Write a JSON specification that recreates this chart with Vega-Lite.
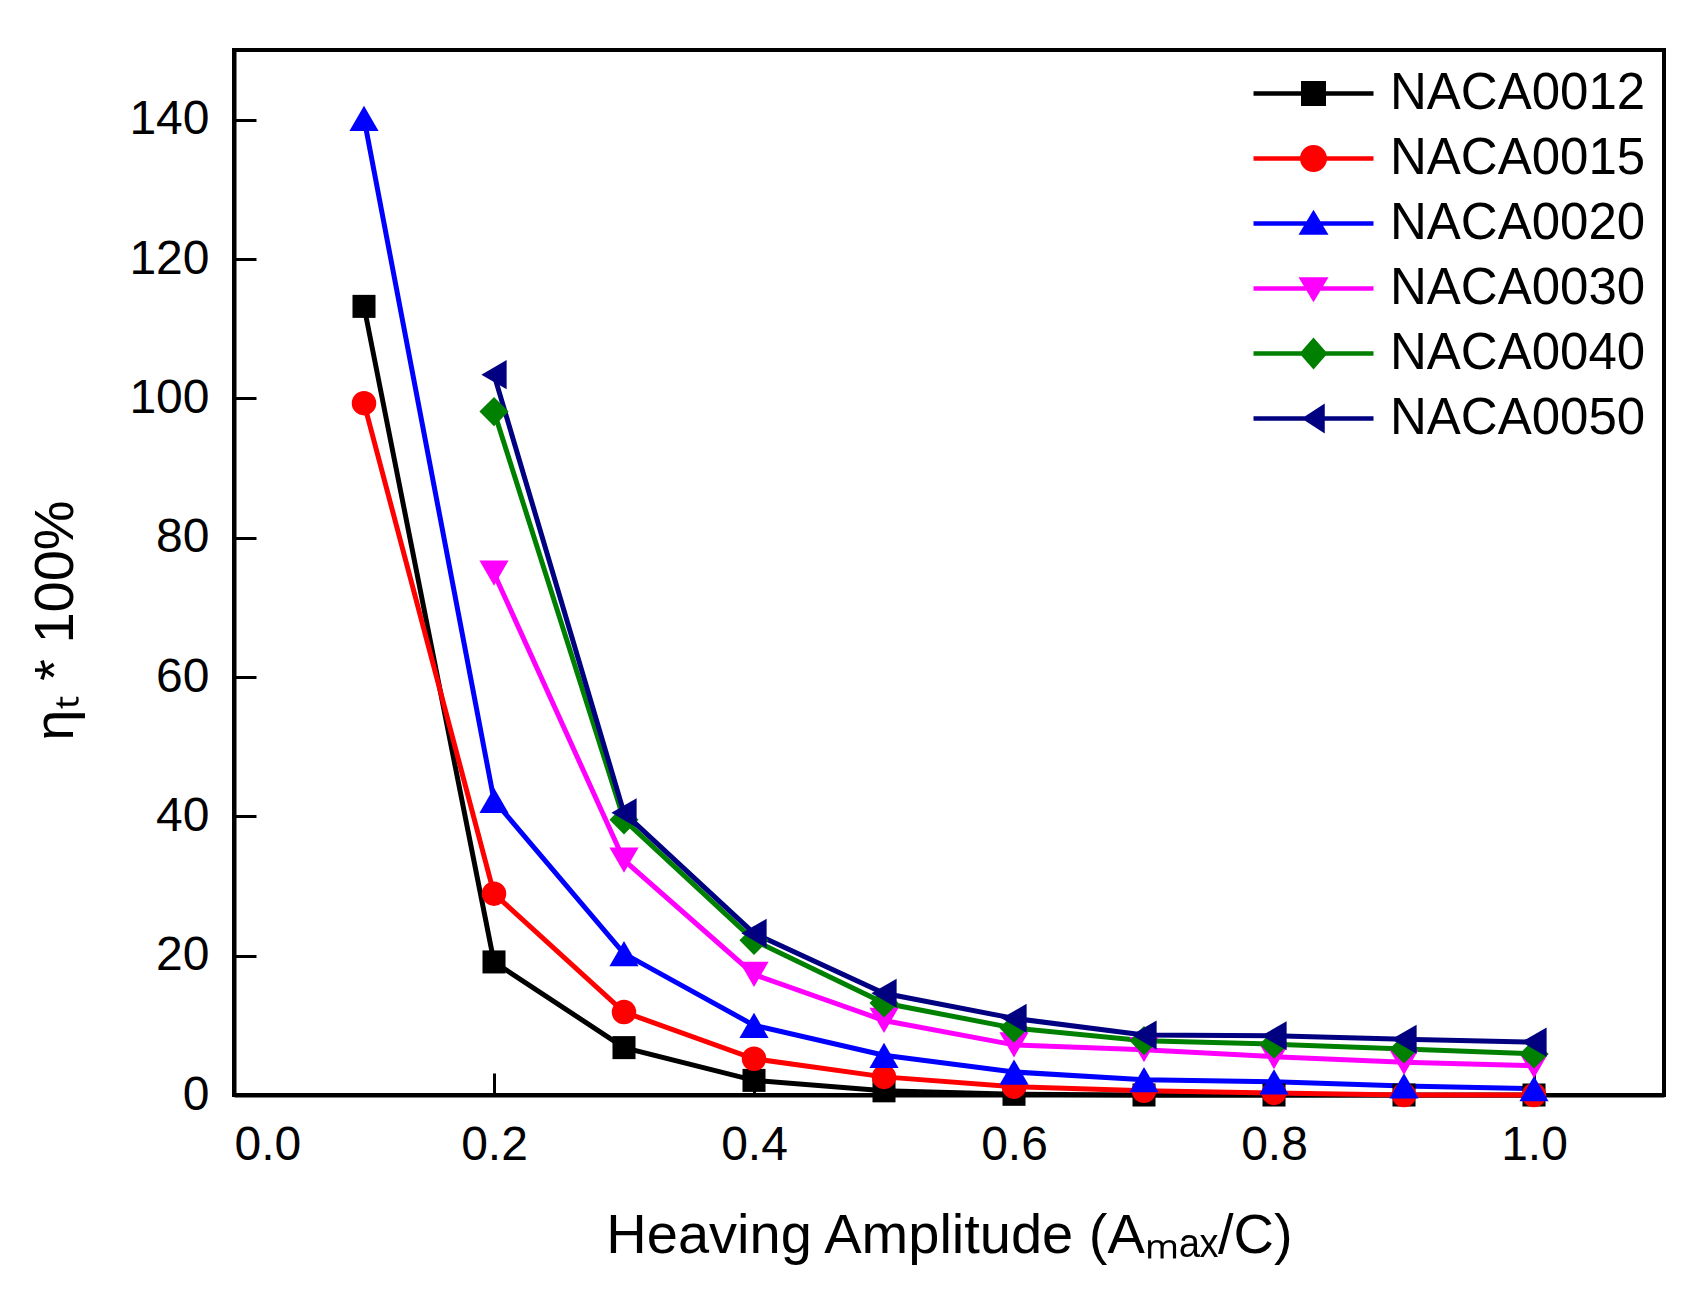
{
  "$schema": "https://vega.github.io/schema/vega-lite/v6.json",
  "width": 1430,
  "height": 1045,
  "autosize": "none",
  "padding": {"left": 234, "top": 50, "right": 30, "bottom": 210},
  "background": "white",
  "config": {
    "font": "Liberation Sans",
    "view": {"stroke": "black", "strokeWidth": 4},
    "legend": {"labelFont": "Liberation Sans", "labelColor": "black"},
    "axis": {
      "grid": false,
      "domainColor": "black",
      "domainWidth": 4,
      "tickColor": "black",
      "tickWidth": 3,
      "tickSize": -22,
      "labelColor": "black",
      "labelFont": "Liberation Sans",
      "labelFontSize": 48,
      "titleFont": "Liberation Sans",
      "titleFontSize": 56,
      "titleFontWeight": "normal",
      "titleColor": "black"
    }
  },
  "data": {
    "values": [
      {"series": "NACA0012", "amp": 0.1, "eta": 113.2},
      {"series": "NACA0012", "amp": 0.2, "eta": 19.1},
      {"series": "NACA0012", "amp": 0.3, "eta": 6.8},
      {"series": "NACA0012", "amp": 0.4, "eta": 2.1},
      {"series": "NACA0012", "amp": 0.5, "eta": 0.6},
      {"series": "NACA0012", "amp": 0.6, "eta": 0.1},
      {"series": "NACA0012", "amp": 0.7, "eta": 0.0},
      {"series": "NACA0012", "amp": 0.8, "eta": 0.0},
      {"series": "NACA0012", "amp": 0.9, "eta": 0.0},
      {"series": "NACA0012", "amp": 1.0, "eta": 0.0},
      {"series": "NACA0015", "amp": 0.1, "eta": 99.3},
      {"series": "NACA0015", "amp": 0.2, "eta": 28.9},
      {"series": "NACA0015", "amp": 0.3, "eta": 11.9},
      {"series": "NACA0015", "amp": 0.4, "eta": 5.2},
      {"series": "NACA0015", "amp": 0.5, "eta": 2.6},
      {"series": "NACA0015", "amp": 0.6, "eta": 1.2},
      {"series": "NACA0015", "amp": 0.7, "eta": 0.6},
      {"series": "NACA0015", "amp": 0.8, "eta": 0.3},
      {"series": "NACA0015", "amp": 0.9, "eta": 0.0},
      {"series": "NACA0015", "amp": 1.0, "eta": 0.0},
      {"series": "NACA0020", "amp": 0.1, "eta": 140.2},
      {"series": "NACA0020", "amp": 0.2, "eta": 42.3},
      {"series": "NACA0020", "amp": 0.3, "eta": 20.3},
      {"series": "NACA0020", "amp": 0.4, "eta": 10.0},
      {"series": "NACA0020", "amp": 0.5, "eta": 5.7},
      {"series": "NACA0020", "amp": 0.6, "eta": 3.3},
      {"series": "NACA0020", "amp": 0.7, "eta": 2.2},
      {"series": "NACA0020", "amp": 0.8, "eta": 1.9},
      {"series": "NACA0020", "amp": 0.9, "eta": 1.3},
      {"series": "NACA0020", "amp": 1.0, "eta": 0.9},
      {"series": "NACA0030", "amp": 0.2, "eta": 74.9},
      {"series": "NACA0030", "amp": 0.3, "eta": 33.7},
      {"series": "NACA0030", "amp": 0.4, "eta": 17.3},
      {"series": "NACA0030", "amp": 0.5, "eta": 10.7},
      {"series": "NACA0030", "amp": 0.6, "eta": 7.2},
      {"series": "NACA0030", "amp": 0.7, "eta": 6.5},
      {"series": "NACA0030", "amp": 0.8, "eta": 5.5},
      {"series": "NACA0030", "amp": 0.9, "eta": 4.7},
      {"series": "NACA0030", "amp": 1.0, "eta": 4.2},
      {"series": "NACA0040", "amp": 0.2, "eta": 98.1},
      {"series": "NACA0040", "amp": 0.3, "eta": 39.5},
      {"series": "NACA0040", "amp": 0.4, "eta": 22.2},
      {"series": "NACA0040", "amp": 0.5, "eta": 13.2},
      {"series": "NACA0040", "amp": 0.6, "eta": 9.6},
      {"series": "NACA0040", "amp": 0.7, "eta": 7.8},
      {"series": "NACA0040", "amp": 0.8, "eta": 7.3},
      {"series": "NACA0040", "amp": 0.9, "eta": 6.6},
      {"series": "NACA0040", "amp": 1.0, "eta": 5.9},
      {"series": "NACA0050", "amp": 0.2, "eta": 103.4},
      {"series": "NACA0050", "amp": 0.3, "eta": 40.5},
      {"series": "NACA0050", "amp": 0.4, "eta": 23.2},
      {"series": "NACA0050", "amp": 0.5, "eta": 14.6},
      {"series": "NACA0050", "amp": 0.6, "eta": 11.0},
      {"series": "NACA0050", "amp": 0.7, "eta": 8.6},
      {"series": "NACA0050", "amp": 0.8, "eta": 8.5},
      {"series": "NACA0050", "amp": 0.9, "eta": 8.0},
      {"series": "NACA0050", "amp": 1.0, "eta": 7.6}
    ]
  },
  "encoding": {
    "x": {
      "field": "amp",
      "type": "quantitative",
      "scale": {"domain": [0, 1.1], "nice": false, "zero": false},
      "axis": {
        "values": [0, 0.2, 0.4, 0.6, 0.8, 1.0],
        "format": ".1f",
        "labelPadding": 48,
        "title": "Heaving Amplitude (Aₘₐₓ/C)",
        "titleBaseline": "alphabetic",
        "titleY": 157
      }
    },
    "y": {
      "field": "eta",
      "type": "quantitative",
      "scale": {"domain": [0, 150], "nice": false},
      "axis": {
        "values": [0, 20, 40, 60, 80, 100, 120, 140],
        "labelPadding": 47,
        "title": "ηₜ * 100%",
        "titleBaseline": "alphabetic",
        "titleAngle": 270,
        "titleAlign": "center",
        "titleX": -162,
        "titleY": 570
      }
    }
  },
  "layer": [
    {
      "mark": {"type": "line", "strokeWidth": 5},
      "encoding": {
        "color": {
          "field": "series",
          "type": "nominal",
          "scale": {"range": ["#000000", "#ff0000", "#0000ff", "#ff00ff", "#008000", "#000080"]},
          "legend": null
        }
      }
    },
    {
      "transform": [{"filter": "datum.series === 'NACA0012'"}],
      "mark": {"type": "point", "shape": "square", "filled": true, "opacity": 1, "size": 530},
      "encoding": {"color": {"field": "series", "type": "nominal", "legend": null}}
    },
    {
      "transform": [{"filter": "datum.series === 'NACA0015'"}],
      "mark": {"type": "point", "shape": "circle", "filled": true, "opacity": 1, "size": 600},
      "encoding": {"color": {"field": "series", "type": "nominal", "legend": null}}
    },
    {
      "transform": [{"filter": "datum.series === 'NACA0020'"}],
      "mark": {"type": "point", "shape": "triangle-up", "filled": true, "opacity": 1, "size": 850},
      "encoding": {"color": {"field": "series", "type": "nominal", "legend": null}}
    },
    {
      "transform": [{"filter": "datum.series === 'NACA0030'"}],
      "mark": {"type": "point", "shape": "triangle-down", "filled": true, "opacity": 1, "size": 850},
      "encoding": {"color": {"field": "series", "type": "nominal", "legend": null}}
    },
    {
      "transform": [{"filter": "datum.series === 'NACA0040'"}],
      "mark": {"type": "point", "shape": "diamond", "filled": true, "opacity": 1, "size": 850},
      "encoding": {"color": {"field": "series", "type": "nominal", "legend": null}}
    },
    {
      "transform": [{"filter": "datum.series === 'NACA0050'"}],
      "mark": {"type": "point", "shape": "triangle-left", "filled": true, "opacity": 1, "size": 850},
      "encoding": {"color": {"field": "series", "type": "nominal", "legend": null}}
    },
    {
      "mark": {"type": "point", "filled": true, "fillOpacity": 0, "strokeWidth": 0, "size": 625},
      "encoding": {
        "fill": {
          "field": "series",
          "type": "nominal",
          "scale": {"range": ["#000000", "#ff0000", "#0000ff", "#ff00ff", "#008000", "#000080"]},
          "legend": {
            "title": null,
            "orient": "top-right",
            "offset": 18,
            "symbolSize": 625,
            "symbolStrokeWidth": 0,
            "symbolOpacity": 1,
            "labelFontSize": 51,
            "labelLimit": 400,
            "labelOffset": 51,
            "rowPadding": 13
          }
        },
        "shape": {
          "field": "series",
          "type": "nominal",
          "scale": {
            "range": [
              "M-4.8,-0.18H4.8V0.18H-4.8Z M-1,-1H1V1H-1Z",
              "M-4.8,-0.18H4.8V0.18H-4.8Z M-1.08,0A1.08,1.08 0 1,1 1.08,0A1.08,1.08 0 1,1 -1.08,0Z",
              "M-4.8,-0.18H4.8V0.18H-4.8Z M0,-1.1L1.2,0.9H-1.2Z",
              "M-4.8,-0.18H4.8V0.18H-4.8Z M0,1.1L-1.2,-0.9H1.2Z",
              "M-4.8,-0.18H4.8V0.18H-4.8Z M0,-1.28L1.12,0L0,1.28L-1.12,0Z",
              "M-4.8,-0.18H4.8V0.18H-4.8Z M-0.95,0L0.9,-1.2V1.2Z"
            ]
          },
          "legend": {
            "title": null,
            "orient": "top-right",
            "offset": 18,
            "symbolSize": 625,
            "symbolStrokeWidth": 0,
            "symbolOpacity": 1,
            "labelFontSize": 51,
            "labelLimit": 400,
            "labelOffset": 51,
            "rowPadding": 13
          }
        }
      }
    }
  ]
}
